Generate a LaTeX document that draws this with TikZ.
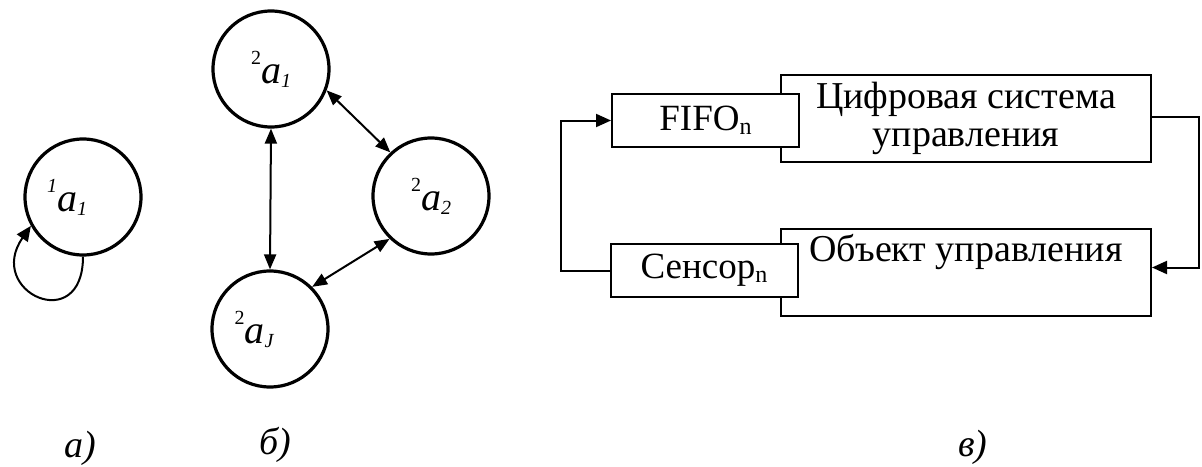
\documentclass[tikz,border=0pt]{standalone}
\usepackage{fontspec}
\setmainfont{Liberation Serif}
\usetikzlibrary{arrows.meta,positioning}
\tikzset{
  circ/.style={draw,circle,line width=3.2pt,minimum size=116pt,inner sep=0pt},
  bigbox/.style={draw,line width=2pt,minimum width=370pt,minimum height=87pt,inner sep=0pt,align=center,font=\fontsize{38}{38}\selectfont},
  smallbox/.style={draw,fill=white,line width=2pt,minimum width=187pt,minimum height=53pt,inner sep=0pt,font=\fontsize{37}{38}\selectfont},
  arr/.style={-{Triangle[length=15pt,width=13pt]},line width=2pt},
  darr/.style={{Triangle[length=15pt,width=12pt]}-{Triangle[length=15pt,width=12pt]},line width=2pt},
  caption/.style={anchor=base,font=\fontsize{38}{38}\selectfont\itshape},
}
\newcommand{\alab}[2]{{\fontsize{40}{40}\selectfont\raisebox{19pt}{\fontsize{20}{20}\selectfont #1}\textit{a}\raisebox{-4pt}{\fontsize{20}{20}\selectfont\itshape #2}}}
\newcommand{\subn}{\raisebox{-4pt}{\fontsize{24}{24}\selectfont n}}

\begin{document}
\begin{tikzpicture}[x=1pt,y=-1pt]
  \useasboundingbox (0,0) rectangle (1202,466);
  % a) one agent
  \node[circ,label={[xshift=-16pt]center:\alab{\textit{1}}{1}}] (a11) at (83,197) {};
  \draw[arr] (a11.south) .. controls +(0,80) and +(-46,66) .. (a11.209);
  % b) three agents
  \node[circ] (a21) at (271,69) {\alab{2}{1}};
  \node[circ] (a22) at (431,196) {\alab{2}{2}};
  \node[circ,label={[xshift=-16pt]center:\alab{2}{J}}] (a2J) at (270,329) {};
  \draw[darr] (a21.south) -- (a2J.north);
  \draw[darr] (a21.-21) -- (a22.133);
  \draw[darr] (a22.226) -- (a2J.45);
  % c) control loop
  \node[bigbox] (dig) at (966,118.5) {Цифровая система\\управления};
  \node[bigbox] (obj) at (966,272.5) {Объект управления\\\strut};
  \node[smallbox] (fifo) at (705.5,120.5) {FIFO\subn};
  \node[smallbox] (sens) at (704,270.5) {Сенсор\subn};
  \draw[arr] ([yshift=2pt]dig.east) -- ++(47,0) |- ([yshift=5pt]obj.east);
  \draw[arr] (sens.west) -- ++(-49,0) |- (fifo.west);
  % captions
  \node[caption] (capa) at (80,457) {а)};
  \node[caption] (capb) at (275,454) {б)};
  \node[caption] (capc) at (973,456) {в)};
\end{tikzpicture}
\end{document}
